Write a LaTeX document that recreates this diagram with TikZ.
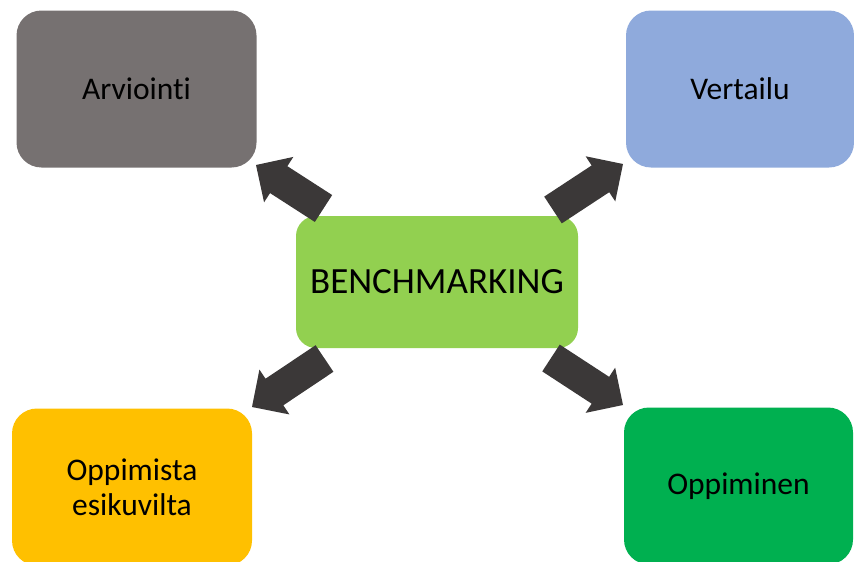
\documentclass[tikz,border=0pt]{standalone}
\usepackage{fontspec}
\setmainfont{Carlito}[Ligatures=NoCommon]
\usetikzlibrary{calc}

\definecolor{tilegray}{HTML}{767171}
\definecolor{tileblue}{HTML}{8FAADC}
\definecolor{tilelime}{HTML}{92D050}
\definecolor{tileamber}{HTML}{FFC000}
\definecolor{tilegreen}{HTML}{00B050}
\definecolor{arrowdark}{HTML}{3B3838}

\tikzset{
  tile/.style={rounded corners=25pt, minimum width=240pt, minimum height=157pt,
    inner sep=0pt, align=center, font=\fontsize{31.5}{35}\selectfont},
  hub/.style={rounded corners=20pt, minimum width=282pt, minimum height=132pt,
    inner sep=0pt, fill=tilelime, font=\fontsize{37}{42}\selectfont},
}

% block arrow from #1 (tail) to #2 (tip): shaft 32pt, head 54pt wide, 27pt long
\newcommand\blockarrow[2]{%
  \coordinate (#1-h) at ($(#2)!27pt!(#1)$);
  \fill[arrowdark]
    ($(#1)!16pt!90:(#2)$) -- ($(#1-h)!16pt!-90:(#1)$) -- ($(#1-h)!27pt!-90:(#1)$)
    -- (#2) -- ($(#1-h)!27pt!90:(#1)$) -- ($(#1-h)!16pt!90:(#1)$)
    -- ($(#1)!16pt!-90:(#2)$) -- cycle;}

\begin{document}
\begin{tikzpicture}[x=1pt, y=-1pt]
  \useasboundingbox (0,0) rectangle (854,562);
  \clip (0,0) rectangle (854,562);

  \node[tile, fill=tilegray]  (arv) at (136.5,89)  {Arviointi};
  \node[tile, fill=tileblue, minimum width=228pt]  (ver) at (740,89) {Vertailu};
  \node[tile, fill=tileamber] (esi) at (132,487) {Oppimista\\esikuvilta};
  \node[tile, fill=tilegreen, minimum width=229pt] (opp) at (738.5,486) {Oppiminen};
  \node[hub] (bm) at (437,282) {BENCHMARKING};

  \coordinate (tlTail) at (323.5,208.5); \coordinate (tlTip) at (256,165);
  \coordinate (trTail) at (553,210);     \coordinate (trTip) at (623,164);
  \coordinate (blTail) at (324.5,358.5); \coordinate (blTip) at (252,407);
  \coordinate (brTail) at (551,358);     \coordinate (brTip) at (623,405);

  \blockarrow{tlTail}{tlTip}
  \blockarrow{trTail}{trTip}
  \blockarrow{blTail}{blTip}
  \blockarrow{brTail}{brTip}
\end{tikzpicture}
\end{document}
